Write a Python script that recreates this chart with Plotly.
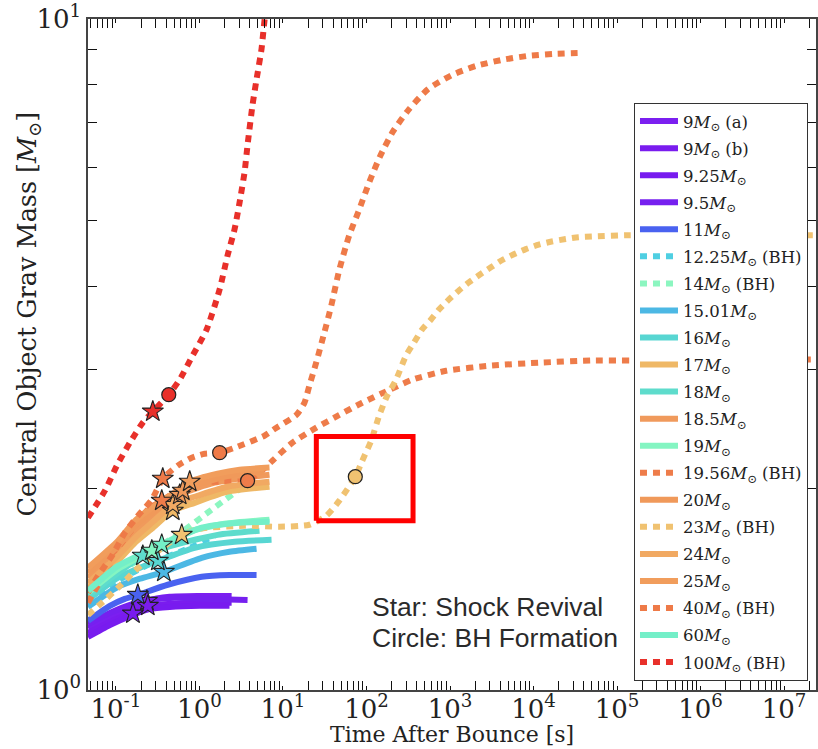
import plotly.graph_objects as go

# ---- time after bounce [s] and central-object gravitational mass [Msun] ----
t_9a = [0.0463, 0.0847, 0.160, 0.235, 0.441, 1.007, 2.43]
m_9a = [1.238, 1.285, 1.330, 1.358, 1.377, 1.381, 1.381]
t_9b = [0.0463, 0.0847, 0.160, 0.241, 0.441, 1.007, 2.43]
m_9b = [1.216, 1.263, 1.307, 1.335, 1.344, 1.349, 1.349]
t_925 = [0.0463, 0.0847, 0.160, 0.255, 0.441, 1.007, 2.29]
m_925 = [1.200, 1.250, 1.294, 1.321, 1.330, 1.335, 1.335]
t_95 = [0.0463, 0.0847, 0.160, 0.255, 0.506, 1.32, 3.77]
m_95 = [1.254, 1.303, 1.344, 1.362, 1.372, 1.367, 1.362]
t_11 = [0.0463, 0.0847, 0.128, 0.183, 0.418, 1.064, 2.29, 4.83]
m_11 = [1.268, 1.335, 1.367, 1.386, 1.435, 1.475, 1.484, 1.484]
t_1225 = [0.0463, 0.106, 0.255, 0.765, 1.52]
m_1225 = [1.353, 1.455, 1.541, 1.629, 1.698]
t_14 = [0.0463, 0.106, 0.255, 0.667, 1.40, 3.19]
m_14 = [1.386, 1.495, 1.602, 1.733, 1.857, 2.002]
t_1501 = [0.0463, 0.106, 0.194, 0.375, 1.064, 2.29, 4.83]
m_1501 = [1.330, 1.425, 1.465, 1.500, 1.574, 1.607, 1.624]
t_16 = [0.0463, 0.106, 0.194, 0.318, 0.877, 2.64, 7.3]
m_16 = [1.362, 1.470, 1.521, 1.558, 1.629, 1.663, 1.674]
t_17 = [0.0463, 0.106, 0.169, 0.269, 0.480, 0.877, 2.175, 6.9]
m_17 = [1.420, 1.558, 1.657, 1.739, 1.850, 1.901, 1.975, 2.009]
t_18 = [0.0463, 0.106, 0.210, 0.506, 1.65, 5.24]
m_18 = [1.381, 1.495, 1.585, 1.646, 1.703, 1.727]
t_185 = [0.0463, 0.106, 0.169, 0.269, 0.581, 1.52, 3.47, 6.9]
m_185 = [1.470, 1.613, 1.727, 1.812, 1.954, 2.037, 2.072, 2.093]
t_19 = [0.0463, 0.106, 0.269, 0.667, 2.0, 6.9]
m_19 = [1.396, 1.515, 1.613, 1.715, 1.769, 1.794]
t_1956 = [0.0463, 0.0739, 0.118, 0.169, 0.241, 0.354, 0.550, 0.877, 1.745, 3.77,
          5.24, 7.49, 13.0, 25.1, 47.3, 89, 187, 352, 896, 3174, 12560, 49660,
          148000, 2.4e7]
m_1956 = [1.349, 1.495, 1.657, 1.757, 1.857, 1.915, 1.982, 2.037, 2.044, 2.051,
          2.108, 2.196, 2.337, 2.46, 2.57, 2.68, 2.80, 2.90, 2.99, 3.045, 3.076, 3.098,
          3.098, 3.11]
t_20 = [0.0463, 0.106, 0.169, 0.269, 0.632, 1.65, 3.03, 6.01]
m_20 = [1.495, 1.640, 1.757, 1.837, 1.982, 2.065, 2.101, 2.115]
t_23 = [0.0463, 0.0739, 0.106, 0.169, 0.255, 0.385, 0.614, 1.007, 3.47, 9.08,
        20.7, 33.0, 47.3, 73.5, 89, 114, 142, 177, 226, 298, 372, 463, 593, 739,
        973, 1280, 1683, 2218, 3090, 4178, 5810, 8080, 11550, 16520, 24270, 34700,
        49660, 126000, 2.4e7]
m_23 = [1.294, 1.362, 1.42, 1.505, 1.574, 1.640, 1.703, 1.739, 1.757, 1.751,
        1.763, 1.818, 1.915, 2.079, 2.196, 2.353, 2.564, 2.746, 2.90, 3.152, 3.296,
        3.446, 3.566, 3.69, 3.82, 3.94, 4.05, 4.15, 4.265, 4.37, 4.46, 4.54, 4.61,
        4.66, 4.70, 4.73, 4.74, 4.76, 4.76]
t_24 = [0.0463, 0.106, 0.169, 0.269, 0.480, 0.877, 2.175, 6.9]
m_24 = [1.444, 1.585, 1.686, 1.775, 1.888, 1.941, 2.009, 2.044]
t_25 = [0.0463, 0.106, 0.169, 0.269, 0.480, 0.765, 1.65, 3.03, 6.9]
m_25 = [1.521, 1.669, 1.787, 1.869, 1.961, 2.044, 2.101, 2.130, 2.145]
t_40 = [0.0463, 0.0610, 0.0896, 0.128, 0.183, 0.269, 0.364, 0.550, 0.808, 1.155,
        1.745, 2.636, 6.01, 8.36, 14.5, 18.1, 20.7, 25.1, 31.3, 37.9, 47.3, 62.2,
        81.9, 107.9, 146, 208, 324, 546, 1056, 2042, 4178, 8531, 16950, 37680]
m_40 = [1.396, 1.480, 1.585, 1.715, 1.818, 1.921, 2.065, 2.160, 2.219, 2.250,
        2.258, 2.296, 2.393, 2.46, 2.57, 2.68, 2.84, 3.08, 3.41, 3.74, 4.23, 4.76,
        5.20, 5.71, 6.25, 6.80, 7.34, 7.86, 8.25, 8.51, 8.69, 8.81, 8.87, 8.90]
t_60 = [0.0463, 0.106, 0.354, 1.064, 3.03, 6.9]
m_60 = [1.405, 1.531, 1.646, 1.745, 1.775, 1.781]
t_100 = [0.0463, 0.0739, 0.1028, 0.147, 0.210, 0.2766, 0.4295, 0.581, 0.831, 1.22,
         1.745, 2.175, 2.636, 3.026, 3.47, 3.77, 4.32, 4.83, 5.54, 5.85, 6.3]
m_100 = [1.806, 1.982, 2.160, 2.337, 2.503, 2.60, 2.755, 2.902, 3.152, 3.446,
         3.953, 4.445, 4.861, 5.33, 5.91, 6.49, 7.44, 8.13, 9.02, 9.63, 10.5]

# progenitor keys, legend labels, and which runs form a black hole
keys = ["9a", "9b", "9.25", "9.5", "11", "12.25", "14", "15.01", "16", "17", "18",
        "18.5", "19", "19.56", "20", "23", "24", "25", "40", "60", "100"]
labels = ["9<i>M</i><sub>⊙</sub> (a)", "9<i>M</i><sub>⊙</sub> (b)",
          "9.25<i>M</i><sub>⊙</sub>", "9.5<i>M</i><sub>⊙</sub>",
          "11<i>M</i><sub>⊙</sub>", "12.25<i>M</i><sub>⊙</sub> (BH)",
          "14<i>M</i><sub>⊙</sub> (BH)", "15.01<i>M</i><sub>⊙</sub>",
          "16<i>M</i><sub>⊙</sub>", "17<i>M</i><sub>⊙</sub>", "18<i>M</i><sub>⊙</sub>",
          "18.5<i>M</i><sub>⊙</sub>", "19<i>M</i><sub>⊙</sub>",
          "19.56<i>M</i><sub>⊙</sub> (BH)", "20<i>M</i><sub>⊙</sub>",
          "23<i>M</i><sub>⊙</sub> (BH)", "24<i>M</i><sub>⊙</sub>",
          "25<i>M</i><sub>⊙</sub>", "40<i>M</i><sub>⊙</sub> (BH)",
          "60<i>M</i><sub>⊙</sub>", "100<i>M</i><sub>⊙</sub> (BH)"]
is_bh = [False, False, False, False, False, True, True, False, False, False, False,
         False, False, True, False, True, False, False, True, False, True]
times = [t_9a, t_9b, t_925, t_95, t_11, t_1225, t_14, t_1501, t_16, t_17, t_18,
         t_185, t_19, t_1956, t_20, t_23, t_24, t_25, t_40, t_60, t_100]
masses = [m_9a, m_9b, m_925, m_95, m_11, m_1225, m_14, m_1501, m_16, m_17, m_18,
          m_185, m_19, m_1956, m_20, m_23, m_24, m_25, m_40, m_60, m_100]

# shock revival (stars) and black-hole formation (circles)
star_keys = ["9a", "9b", "9.25", "11", "15.01", "16", "18", "19", "60", "17", "24",
             "18.5", "20", "25", "19.56", "40", "23", "100"]
star_t = [0.235, 0.241, 0.160, 0.183, 0.375, 0.318, 0.210, 0.269, 0.354, 0.480, 0.480,
          0.581, 0.632, 0.765, 0.354, 0.364, 0.614, 0.2766]
star_m = [1.358, 1.335, 1.300, 1.386, 1.500, 1.558, 1.585, 1.613, 1.646, 1.850, 1.888,
          1.954, 1.982, 2.044, 1.915, 2.065, 1.703, 2.60]
bh_keys = ["100", "40", "19.56", "23"]
bh_t = [0.4295, 1.745, 3.77, 73.5]
bh_m = [2.755, 2.258, 2.051, 2.079]

# highlighted window around the 23 Msun collapse
box_t = [25.1, 361]
box_m = [1.787, 2.386]

x_major = [10.0 ** k for k in range(-1, 8)]
x_major_text = ["10<sup>%d</sup>" % k for k in range(-1, 8)]
x_minor = [d * 10.0 ** k for k in range(-2, 8) for d in range(2, 10)]
y_major = [1, 10]
y_major_text = ["10<sup>0</sup>", "10<sup>1</sup>"]
y_minor = list(range(2, 10))

# ---- styling ----
colors = {
    "9a": "#7b1ff0", "9b": "#7a1cee", "9.25": "#781bef", "9.5": "#7620ef",
    "11": "#4a62f0", "12.25": "#4fcfe2", "14": "#8cf6c0", "15.01": "#4cb8e4",
    "16": "#58d6d2", "17": "#efb866", "18": "#5edccc", "18.5": "#f09a5c",
    "19": "#84f5c2", "19.56": "#ee7c4a", "20": "#f0995a", "23": "#f0c271",
    "24": "#f1a962", "25": "#f19d5c", "40": "#ee7a48", "60": "#74efc8",
    "100": "#e8302a",
}
SERIF = "DejaVu Serif"
INK = "#222"

fig = go.Figure()

for key, lab, bh, t, m in zip(keys, labels, is_bh, times, masses):
    fig.add_trace(go.Scatter(
        x=t, y=m, mode="lines", name=lab, legendgroup=key,
        line=dict(color=colors[key], width=6,
                  dash="7px,6px" if bh else "solid", shape="spline", smoothing=0.6),
        hoverinfo="skip",
    ))

fig.add_trace(go.Scatter(
    x=star_t, y=star_m, mode="markers", showlegend=False, hoverinfo="skip",
    marker=dict(symbol="star", size=16, color=[colors[k] for k in star_keys],
                line=dict(color=INK, width=1.1)),
))
fig.add_trace(go.Scatter(
    x=bh_t, y=bh_m, mode="markers", showlegend=False, hoverinfo="skip",
    marker=dict(symbol="circle", size=14, color=[colors[k] for k in bh_keys],
                line=dict(color=INK, width=1.2)),
))
fig.add_trace(go.Scatter(
    x=[box_t[0], box_t[1], box_t[1], box_t[0], box_t[0]],
    y=[box_m[0], box_m[0], box_m[1], box_m[1], box_m[0]],
    mode="lines", showlegend=False, hoverinfo="skip",
    line=dict(color="#ff0000", width=5),
))

axis_common = dict(
    type="log", showgrid=False, zeroline=False,
    showline=True, linecolor="#444", linewidth=1.5, mirror="ticks",
    ticks="inside", ticklen=4, tickwidth=1.3, tickcolor="#111",
    tickfont=dict(family=SERIF, size=26, color=INK),
    ticklabeloverflow="allow",
)
minor_common = dict(tickmode="array", ticks="inside", ticklen=9,
                    tickwidth=1.3, tickcolor="#111", showgrid=False)

fig.update_xaxes(
    **axis_common, range=[-1.334, 7.382],
    tickmode="array", tickvals=x_major, ticktext=x_major_text,
    minor=dict(tickvals=x_minor, **minor_common),
    ticklabelstandoff=-5,
)
fig.update_yaxes(
    **axis_common, range=[0, 1],
    tickmode="array", tickvals=y_major, ticktext=y_major_text,
    minor=dict(tickvals=y_minor, **minor_common),
)

# axis labels, placed as free text so they sit exactly where wanted
fig.add_annotation(text="Time After Bounce [s]", xref="paper", yref="paper",
                   x=0.5, y=-0.066, xanchor="center", yanchor="middle", showarrow=False,
                   font=dict(family=SERIF, size=22, color=INK))
fig.add_annotation(text="Central Object Grav Mass [<i>M</i><sub>⊙</sub>]",
                   xref="paper", yref="paper", x=-0.082, y=0.56,
                   xanchor="center", yanchor="middle", textangle=-90, showarrow=False,
                   font=dict(family=SERIF, size=25.5, color=INK))

fig.add_annotation(text="Star: Shock Revival", xref="paper", yref="paper",
                   x=0.3877, y=0.1233, xanchor="left", yanchor="middle", showarrow=False,
                   font=dict(family="Liberation Sans", size=26.5, color="#2a2a2a"))
fig.add_annotation(text="Circle: BH Formation", xref="paper", yref="paper",
                   x=0.3877, y=0.0773, xanchor="left", yanchor="middle", showarrow=False,
                   font=dict(family="Liberation Sans", size=26.5, color="#2a2a2a"))

fig.update_layout(
    width=818, height=749, autosize=False,
    margin=dict(l=88, r=0, t=17, b=59),
    plot_bgcolor="white", paper_bgcolor="white",
    legend=dict(x=0.989, y=0.875, xanchor="right", yanchor="top",
                bgcolor="white", bordercolor="#333", borderwidth=1,
                font=dict(family=SERIF, size=16.5, color=INK),
                tracegroupgap=2.6, itemwidth=38),
    showlegend=True,
)

fig.write_html("out.html")
